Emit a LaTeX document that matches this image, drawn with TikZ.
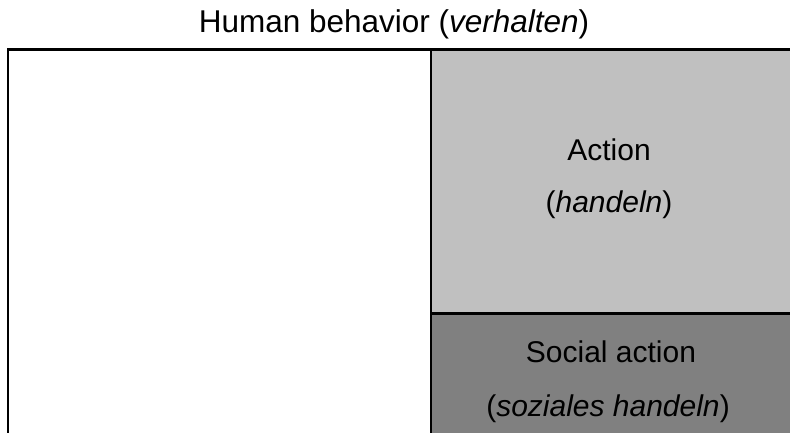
\documentclass[tikz,border=0pt]{standalone}
\usepackage{fontspec}
\setmainfont{Liberation Sans}
\definecolor{actiongray}{RGB}{192,192,192}
\definecolor{socialgray}{RGB}{128,128,128}
\begin{document}
\begin{tikzpicture}[x=1pt,y=1pt,
  frame/.style={draw=black,line width=2.2pt},
  label/.style={anchor=base,inner sep=0pt,font=\fontsize{30}{36}\selectfont},
  heading/.style={label,font=\fontsize{31.5}{38}\selectfont}]
\useasboundingbox (0,0) rectangle (790,432);
\clip (0,0) rectangle (790,432);
% outer field of human behaviour, running off the right and bottom edges
\draw[frame,fill=white] (8,-20) rectangle (810,382.5);
% action and social action sub-fields
\draw[frame,fill=actiongray] (431,118.5) rectangle (810,382.5);
\draw[frame,fill=socialgray] (431,-20) rectangle (810,118.5);
% labels
\node[heading] (title) at (394,399.5) {Human behavior (\textit{verhalten})};
\node[label] (act1) at (609,272) {Action};
\node[label] (act2) at (609,220) {(\textit{handeln})};
\node[label] (soc1) at (611,70) {Social action};
\node[label] (soc2) at (608,16) {(\textit{soziales handeln})};
\end{tikzpicture}
\end{document}
